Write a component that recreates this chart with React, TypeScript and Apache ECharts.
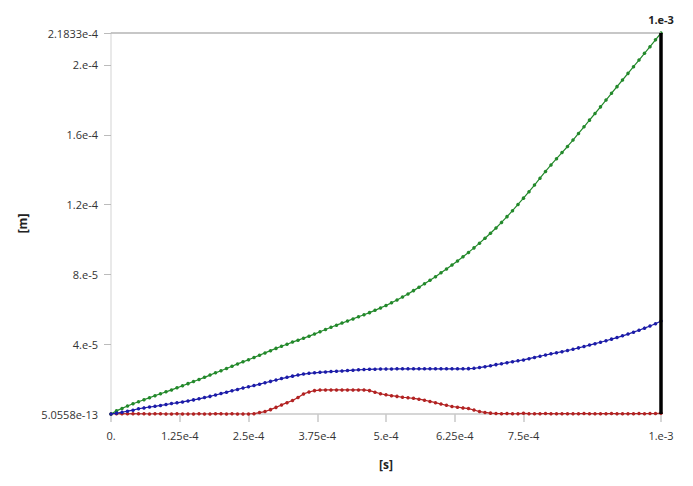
import React, { useEffect, useRef } from "react";
import * as echarts from "echarts";

// time samples [s]
const timeS = [
  0, 1e-5, 2e-5, 3e-5, 4e-5, 5e-5, 6e-5, 7e-5, 8e-5, 9e-5,
  1e-4, 1.1e-4, 1.2e-4, 1.3e-4, 1.4e-4, 1.5e-4, 1.6e-4, 1.7e-4, 1.8e-4, 1.9e-4,
  2e-4, 2.1e-4, 2.2e-4, 2.3e-4, 2.4e-4, 2.5e-4, 2.6e-4, 2.7e-4, 2.8e-4, 2.9e-4,
  3e-4, 3.1e-4, 3.2e-4, 3.3e-4, 3.4e-4, 3.5e-4, 3.6e-4, 3.7e-4, 3.8e-4, 3.9e-4,
  4e-4, 4.1e-4, 4.2e-4, 4.3e-4, 4.4e-4, 4.5e-4, 4.6e-4, 4.7e-4, 4.8e-4, 4.9e-4,
  5e-4, 5.1e-4, 5.2e-4, 5.3e-4, 5.4e-4, 5.5e-4, 5.6e-4, 5.7e-4, 5.8e-4, 5.9e-4,
  6e-4, 6.1e-4, 6.2e-4, 6.3e-4, 6.4e-4, 6.5e-4, 6.6e-4, 6.7e-4, 6.8e-4, 6.9e-4,
  7e-4, 7.1e-4, 7.2e-4, 7.3e-4, 7.4e-4, 7.5e-4, 7.6e-4, 7.7e-4, 7.8e-4, 7.9e-4,
  8e-4, 8.1e-4, 8.2e-4, 8.3e-4, 8.4e-4, 8.5e-4, 8.6e-4, 8.7e-4, 8.8e-4, 8.9e-4,
  9e-4, 9.1e-4, 9.2e-4, 9.3e-4, 9.4e-4, 9.5e-4, 9.6e-4, 9.7e-4, 9.8e-4, 9.9e-4,
  1e-3,
];

// deformation values in micrometres
const greenUm = [
  0, 1.8, 3.2, 4.6, 5.9, 7.0, 8.2, 9.3, 10.5, 11.6,
  12.7, 13.8, 15.0, 16.2, 17.4, 18.6, 19.8, 21.0, 22.3, 23.6,
  24.8, 26.1, 27.4, 28.7, 29.9, 31.1, 32.4, 33.7, 35.0, 36.3,
  37.6, 38.8, 40.0, 41.2, 42.3, 43.4, 44.6, 45.8, 47.1, 48.4,
  49.7, 50.9, 52.1, 53.3, 54.5, 55.7, 56.9, 58.1, 59.4, 60.8,
  62.2, 63.7, 65.3, 67.0, 68.8, 70.7, 72.6, 74.6, 76.6, 78.7,
  80.9, 83.1, 85.4, 87.7, 90.1, 92.6, 95.2, 97.9, 100.7, 103.6,
  106.6, 109.8, 113.1, 116.5, 120.1, 123.7, 127.4, 131.2, 135.1, 139.0,
  142.7, 146.3, 149.8, 153.3, 157.0, 160.8, 164.6, 168.4, 172.2, 176.0,
  179.9, 183.8, 187.6, 191.4, 195.2, 199.0, 202.8, 206.7, 210.5, 214.4,
  218.33,
];

const blueUm = [
  0, 0.5, 1.0, 1.6, 2.2, 3.0, 3.5, 4.0, 4.4, 4.9,
  5.4, 6.0, 6.4, 6.9, 7.5, 8.1, 8.7, 9.4, 10.1, 10.9,
  11.7, 12.5, 13.3, 14.1, 14.9, 15.6, 16.3, 17.1, 17.9, 18.7,
  19.5, 20.3, 21.0, 21.7, 22.3, 22.9, 23.3, 23.6, 23.9, 24.1,
  24.3, 24.5, 24.7, 24.9, 25.1, 25.3, 25.5, 25.6, 25.7, 25.8,
  25.8, 25.8, 25.9, 25.9, 25.9, 25.9, 25.9, 25.9, 25.9, 25.9,
  25.9, 25.9, 25.9, 25.9, 25.9, 26.0, 26.2, 26.6, 27.1, 27.6,
  28.3, 28.8, 29.4, 30.0, 30.5, 31.0, 31.7, 32.4, 33.1, 33.8,
  34.5, 35.1, 35.7, 36.4, 37.1, 37.9, 38.7, 39.5, 40.3, 41.1,
  42.0, 42.9, 43.8, 44.8, 45.8, 46.9, 48.0, 49.2, 50.4, 51.7,
  53.3,
];

const redUm = [
  0, 0.1, 0.2, 0.1, 0.2, 0.1, 0.1, 0.0, 0.1, 0.1,
  0.0, 0.0, 0.1, 0.0, 0.0, 0.0, 0.1, 0.0, 0.0, 0.2,
  0.1, 0.0, 0.1, 0.0, 0.0, 0.0, 0.2, 0.8, 1.4, 2.5,
  3.8, 5.2, 6.5, 7.7, 9.5, 11.5, 12.6, 13.4, 13.7, 13.8,
  13.8, 13.8, 13.8, 13.8, 13.8, 13.8, 13.8, 13.4, 12.5, 11.6,
  11.0, 10.5, 10.1, 9.6, 9.3, 9.0, 8.5, 7.9, 7.2, 6.5,
  5.7, 5.0, 4.3, 3.9, 3.5, 3.1, 2.3, 1.4, 0.9, 0.5,
  0.3, 0.2, 0.3, 0.1, 0.2, 0.4, 0.2, 0.1, 0.2, 0.3,
  0.2, 0.1, 0.2, 0.2, 0.1, 0.2, 0.3, 0.2, 0.1, 0.2,
  0.2, 0.3, 0.2, 0.1, 0.2, 0.2, 0.3, 0.2, 0.3, 0.3,
  0.5,
];

const xTickValues = [0, 1.25e-4, 2.5e-4, 3.75e-4, 5e-4, 6.25e-4, 7.5e-4, 1e-3];
const xTickLabels = ["0.", "1.25e-4", "2.5e-4", "3.75e-4", "5.e-4", "6.25e-4", "7.5e-4", "1.e-3"];

const yMinUm = 5.0558e-7;
const yMaxUm = 218.33;
const yTickValues = [5.0558e-7, 40, 80, 120, 160, 200, 218.33];
const yTickLabels = ["5.0558e-13", "4.e-5", "8.e-5", "1.2e-4", "1.6e-4", "2.e-4", "2.1833e-4"];

const markerTime = 1e-3;
const markerLabel = "1.e-3";

const FONT = "'Open Sans', 'Noto Sans', sans-serif";

function pair(xs: number[], ys: number[]) {
  return xs.map((x, i) => [x, ys[i]]);
}

function labelFor(values: number[], labels: string[], v: number) {
  let best = 0;
  let d = Infinity;
  values.forEach((t, i) => {
    const dd = Math.abs(t - v);
    if (dd < d) {
      d = dd;
      best = i;
    }
  });
  return labels[best];
}

export default function App() {
  const ref = useRef<HTMLDivElement>(null);

  useEffect(() => {
    if (!ref.current) return;
    const chart = echarts.init(ref.current, null, { renderer: "svg" });

    const lineSeries = (name: string, data: number[], color: string, z: number) => ({
      name,
      type: "line",
      data: pair(timeS, data),
      symbol: "circle",
      symbolSize: 3.5,
      showSymbol: true,
      z,
      lineStyle: { color, width: 1.2 },
      itemStyle: { color },
    });

    chart.setOption({
      animation: false,
      backgroundColor: "#ffffff",
      grid: { left: 111, right: 32, top: 33, bottom: 72, containLabel: false },
      xAxis: {
        type: "value",
        min: 0,
        max: 1e-3,
        name: "[s]",
        nameLocation: "middle",
        nameGap: 44,
        nameTextStyle: { fontFamily: FONT, fontSize: 12, fontWeight: "bold", color: "#222" },
        axisLine: { show: true, lineStyle: { color: "#c8c8c8", width: 1.5 } },
        axisTick: {
          show: true,
          customValues: xTickValues,
          length: 8,
          lineStyle: { color: "#c8c8c8", width: 1.5 },
        },
        axisLabel: {
          customValues: xTickValues,
          margin: 16,
          fontFamily: FONT,
          fontSize: 11,
          color: "#333",
          formatter: (v: number) => labelFor(xTickValues, xTickLabels, v),
        },
        splitLine: { show: false },
      },
      yAxis: {
        type: "value",
        min: yMinUm,
        max: yMaxUm,
        name: "[m]",
        nameLocation: "middle",
        nameRotate: 90,
        nameGap: 83,
        nameTextStyle: { fontFamily: FONT, fontSize: 12, fontWeight: "bold", color: "#222" },
        axisLine: { show: true, onZero: false, lineStyle: { color: "#e2e2e2", width: 1.5 } },
        axisTick: {
          show: true,
          customValues: yTickValues.slice(1),
          length: 7,
          lineStyle: { color: "#bbbbbb", width: 1 },
        },
        axisLabel: {
          customValues: yTickValues,
          margin: 13,
          fontFamily: FONT,
          fontSize: 11,
          color: "#333",
          formatter: (v: number) => labelFor(yTickValues, yTickLabels, v),
        },
        splitLine: { show: false },
      },
      series: [
        {
          ...lineSeries("green", greenUm, "#23892b", 3),
          markLine: {
            silent: true,
            symbol: ["none", "none"],
            animation: false,
            data: [
              [
                {
                  coord: [0, yMaxUm],
                  lineStyle: { color: "#b4b4b4", width: 1.5, type: "solid" },
                  label: { show: false },
                },
                { coord: [markerTime, yMaxUm] },
              ],
              [
                {
                  coord: [markerTime, yMinUm],
                  lineStyle: { color: "#000000", width: 3.5, type: "solid" },
                  label: {
                    show: true,
                    position: "end",
                    distance: 8,
                    formatter: markerLabel,
                    fontFamily: FONT,
                    fontSize: 11,
                    fontWeight: "bold",
                    color: "#222",
                  },
                },
                { coord: [markerTime, yMaxUm] },
              ],
            ],
          },
        },
        lineSeries("red", redUm, "#b22222", 2),
        lineSeries("blue", blueUm, "#1c1ca8", 4),
      ],
    });

    return () => chart.dispose();
  }, []);

  return (
    <div
      ref={ref}
      style={{ position: "absolute", left: 0, top: 0, width: 693, height: 486 }}
    />
  );
}
